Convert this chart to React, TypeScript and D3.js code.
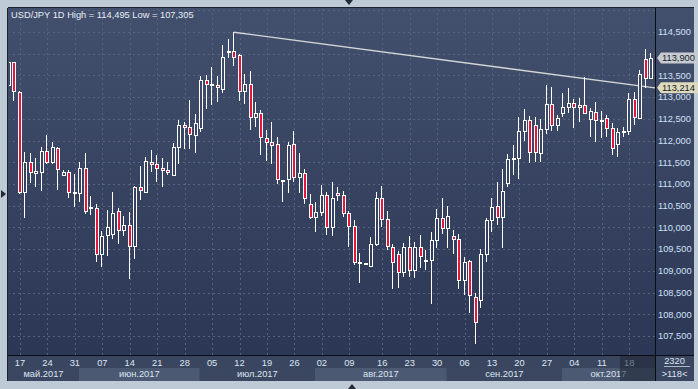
import React from 'react';
import * as d3 from 'd3';

// USD/JPY daily candles, 15 May 2017 .. 24 Oct 2017
const opens = [
  113.28, 113.8, 113.13, 110.81, 111.5, 111.25, 111.28, 111.77, 111.5, 111.82,
  111.21, 111.27, 110.82, 110.79, 111.36, 110.44, 110.44, 109.38, 109.82, 109.84,
  110.39, 109.93, 110.05, 109.57, 110.93, 110.82, 111.51, 111.45, 111.38, 111.32,
  111.21, 111.85, 112.35, 112.31, 112.14, 112.28, 113.39, 113.29, 113.27, 113.19,
  114.04, 114.06, 113.97, 113.15, 113.3, 112.55, 112.63, 112.05, 111.96, 111.92,
  111.09, 111.11, 111.92, 111.17, 111.25, 110.53, 110.25, 110.36, 110.75, 110.02,
  110.79, 110.75, 110.33, 110.04, 109.19, 109.16, 109.12, 109.63, 110.67, 110.19,
  109.56, 109.38, 108.97, 109.54, 109.02, 109.54, 109.24, 109.24, 109.7, 110.22,
  109.98, 109.81, 109.73, 108.79, 109.23, 108.41, 108.33, 109.39, 110.17, 110.49,
  110.25, 111.02, 111.58, 111.59, 112.22, 112.47, 112.35, 111.71, 112.26, 112.84,
  112.36, 112.63, 112.77, 112.86, 112.77, 112.82, 112.49, 112.66, 112.46, 112.51,
  112.28, 111.91, 112.21, 112.22, 112.95, 112.51, 113.87, 113.43,
];
const highs = [
  113.88, 113.82, 113.15, 111.73, 111.71, 111.61, 111.86, 112.14, 111.96, 111.86,
  111.32, 111.32, 111.23, 111.51, 111.71, 110.72, 110.53, 109.91, 110.4, 110.81,
  110.44, 110.26, 110.36, 110.96, 111.41, 111.63, 111.78, 111.67, 111.59, 111.51,
  111.94, 112.47, 112.43, 112.93, 112.61, 113.49, 113.51, 113.7, 113.49, 114.2,
  114.34, 114.495, 114.0, 113.53, 113.6, 112.88, 112.7, 112.24, 112.42, 112.08,
  111.1, 111.97, 112.23, 111.72, 111.35, 110.77, 110.59, 110.98, 110.82, 111.04,
  110.92, 110.84, 110.38, 110.17, 109.42, 109.18, 109.79, 110.82, 110.95, 110.39,
  109.61, 109.46, 109.65, 109.81, 109.67, 109.83, 109.48, 109.89, 110.42, 110.68,
  110.49, 109.94, 109.84, 109.33, 109.25, 108.48, 109.5, 110.21, 110.68, 111.05,
  111.35, 111.68, 111.9, 112.54, 112.72, 112.57, 112.54, 112.49, 113.28, 113.24,
  112.59, 113.09, 113.2, 112.96, 112.97, 113.46, 112.74, 112.88, 112.69, 112.59,
  112.4, 112.28, 112.32, 113.09, 113.13, 113.62, 114.1, 114.01,
];
const lows = [
  113.2, 112.91, 110.77, 110.22, 111.03, 110.94, 110.85, 111.46, 111.46, 110.86,
  111.19, 110.67, 110.46, 110.58, 110.31, 110.29, 109.21, 109.1, 109.35, 109.73,
  109.61, 109.8, 108.81, 109.27, 110.63, 110.82, 111.28, 111.05, 110.94, 111.21,
  111.21, 111.46, 111.81, 111.81, 111.72, 112.19, 112.73, 112.83, 112.9, 113.1,
  113.91, 113.72, 112.92, 112.84, 112.24, 112.32, 111.67, 111.54, 111.46, 111.0,
  110.59, 110.8, 111.05, 110.79, 110.53, 110.2, 109.9, 110.26, 109.83, 109.8,
  110.61, 110.23, 109.54, 109.13, 108.71, 109.14, 109.11, 109.58, 110.0, 109.48,
  108.58, 108.61, 108.87, 108.85, 108.83, 109.06, 109.02, 108.23, 109.53, 109.86,
  109.53, 109.38, 108.59, 108.45, 108.02, 107.305, 108.14, 109.21, 109.9, 110.06,
  109.53, 110.94, 111.21, 111.12, 112.0, 111.48, 111.5, 111.5, 112.15, 112.23,
  112.23, 112.54, 112.64, 112.3, 112.42, 112.61, 112.09, 111.97, 112.05, 112.09,
  111.67, 111.63, 112.09, 112.13, 112.36, 112.51, 113.22, 113.41,
];
const closes = [
  113.8, 113.14, 110.82, 111.5, 111.27, 111.29, 111.77, 111.5, 111.85, 111.34,
  111.27, 110.82, 110.79, 111.36, 110.39, 110.47, 109.38, 109.8, 110.0, 110.33,
  109.93, 110.05, 109.57, 110.93, 110.86, 111.52, 111.46, 111.38, 111.32, 111.27,
  111.85, 112.35, 112.31, 112.16, 112.4, 113.39, 113.3, 113.31, 113.23, 113.92,
  114.06, 113.93, 113.15, 113.3, 112.54, 112.63, 112.08, 111.96, 111.89, 111.11,
  111.1, 111.9, 111.17, 111.25, 110.67, 110.25, 110.35, 110.75, 110.02, 110.67,
  110.74, 110.33, 110.04, 109.2, 109.21, 109.18, 109.63, 110.67, 110.19, 109.57,
  109.2, 108.97, 109.54, 109.02, 109.54, 109.34, 109.26, 109.7, 110.22, 109.98,
  110.26, 109.73, 108.79, 109.21, 108.44, 107.82, 109.39, 110.17, 110.46, 110.25,
  110.84, 111.58, 111.6, 112.22, 112.47, 111.73, 111.73, 112.26, 112.84, 112.36,
  112.51, 112.77, 112.86, 112.77, 112.82, 112.64, 112.68, 112.47, 112.48, 112.28,
  111.82, 112.19, 112.23, 112.95, 112.54, 113.53, 113.43, 113.9,
];

// weekly ticks (candle index of each labelled day)
const dayTickIdx = [2, 7, 12, 17, 22, 27, 32, 37, 42, 47, 52, 57, 62, 68, 73, 78, 83, 88, 93, 98, 103, 108, 113];
const dayTickLabels = ['17', '24', '31', '07', '14', '21', '28', '05', '12', '19', '26', '02', '09', '16', '23', '30', '06', '13', '20', '27', '04', '11', '18'];
const monthLabels = ['май.2017', 'июн.2017', 'июл.2017', 'авг.2017', 'сен.2017', 'окт.2017'];
const monthStartIdx = [13, 35, 56, 80, 101];
const priceLevels = d3.range(107.5, 115.01, 0.5);
const trendLine = [
  { idx: 41, value: 114.495 },
  { idx: 117.7, value: 113.214 },
];
const trendValue = 113.214;
const viewStartIdx = 111.3;

const W = 698;
const H = 389;
const plot = { left: 8, top: 8, right: 655, bottom: 355 };
const axisRight = 694;
const footBottom = 381;
const rowSplit = 368;

const FONT = '"Liberation Sans", Arial, sans-serif';
const RED = '#e3173c';
const TXT = '#dbe5f2';
const fmt = (v: number) => v.toFixed(3).replace('.', ',');

export default function App() {
  const x = d3.scaleLinear().domain([0, 117]).range([9.0, 651.2]);
  const y = d3.scaleLinear().domain([107.063, 115.053]).range([plot.bottom, plot.top]);
  const px = (v: number) => Math.round(v) + 0.5;

  const hi = d3.max(highs)!;
  const lo = d3.min(lows)!;
  const last = closes[closes.length - 1];

  const bounds = [plot.left, ...monthStartIdx.map((i) => x(i - 0.25)), plot.right];
  const trendPath = d3
    .line<{ idx: number; value: number }>()
    .x((d) => x(d.idx))
    .y((d) => y(d.value))(trendLine)!;

  // price levels hidden behind the two price markers are not drawn
  const covered = (v: number) => [last, trendValue].some((m) => Math.abs(y(m) - y(v)) < 9);

  const marker = (v: number, fill: string) => {
    const cy = y(v);
    return (
      <g key={v}>
        <path
          d={`M${plot.right + 2},${cy} L${plot.right + 6},${cy - 5.5} L${W},${cy - 5.5} L${W},${cy + 5.5} L${plot.right + 6},${cy + 5.5} Z`}
          fill={fill}
        />
        <text x={plot.right + 7} y={cy} dy="0.35em" fontSize={9.3} fill="#141b26" fontFamily={FONT}>
          {fmt(v)}
        </text>
      </g>
    );
  };

  return (
    <svg width={W} height={H} style={{ position: 'absolute', left: 0, top: 0 }} fontFamily={FONT}>
      <defs>
        <linearGradient id="bg" gradientUnits="userSpaceOnUse" x1={0} y1={plot.top} x2={0} y2={plot.bottom}>
          <stop offset="0" stopColor="#43506d" />
          <stop offset="1" stopColor="#2b3755" />
        </linearGradient>
        <clipPath id="plotClip">
          <rect x={plot.left + 1} y={plot.top + 1} width={plot.right - plot.left - 1} height={plot.bottom - plot.top - 1} />
        </clipPath>
      </defs>

      <rect width={W} height={H} fill="#bfcad7" />
      <rect x={plot.left} y={plot.top} width={axisRight - plot.left} height={plot.bottom - plot.top} fill="url(#bg)" />
      <rect x={plot.left} y={plot.bottom} width={axisRight - plot.left} height={footBottom - plot.bottom} fill="#3a4660" />

      {/* month bands */}
      {monthLabels.map((m, i) => (
        <g key={m}>
          <rect
            x={bounds[i]}
            y={rowSplit}
            width={bounds[i + 1] - bounds[i]}
            height={footBottom - rowSplit}
            fill={i % 2 === 0 ? '#3b4761' : '#4c5973'}
          />
          <text x={(bounds[i] + bounds[i + 1]) / 2} y={377} textAnchor="middle" fontSize={9.3} fill={TXT}>
            {m}
          </text>
        </g>
      ))}

      {/* day ticks */}
      {dayTickIdx.map((t, i) => (
        <text key={t} x={x(t)} y={366} textAnchor="middle" fontSize={9.3} fill={TXT}>
          {dayTickLabels[i]}
        </text>
      ))}

      <g clipPath="url(#plotClip)">
        {priceLevels.map((v) => (
          <line key={v} x1={plot.left} x2={plot.right} y1={px(y(v))} y2={px(y(v))} stroke="#56637f" strokeDasharray="2,3" />
        ))}
        {dayTickIdx.map((t) => (
          <line key={t} x1={px(x(t))} x2={px(x(t))} y1={plot.top} y2={plot.bottom} stroke="#56637f" strokeDasharray="2,3" />
        ))}

        <path d={trendPath} stroke="#d6d6d6" strokeWidth={1.4} fill="none" />

        {opens.map((o, i) => {
          const c = closes[i];
          const cx = Math.round(x(i));
          const top = Math.round(y(Math.max(o, c)));
          const bot = Math.round(y(Math.min(o, c)));
          return (
            <g key={i}>
              <line x1={cx - 0.5} x2={cx - 0.5} y1={Math.round(y(highs[i]))} y2={Math.round(y(lows[i]))} stroke="#fff" />
              <rect
                x={cx - 1.5}
                y={top + 0.5}
                width={3}
                height={Math.max(1, bot - top)}
                fill={c >= o ? 'url(#bg)' : RED}
                stroke="#fff"
              />
            </g>
          );
        })}
      </g>

      {/* price axis */}
      {priceLevels
        .filter((v) => v <= 114.5 && !covered(v))
        .map((v) => (
          <text key={v} x={plot.right + 3} y={y(v)} dy="0.35em" fontSize={9.3} fill="#cfe0f6">
            {fmt(v)}
          </text>
        ))}
      {marker(last, '#c7cbd1')}
      {marker(trendValue, '#dedabe')}

      {/* shaded view region on the time axis */}
      <rect
        x={x(viewStartIdx)}
        y={plot.bottom}
        width={plot.right - x(viewStartIdx)}
        height={footBottom - plot.bottom}
        fill="#1d2435"
        opacity={0.55}
      />

      <text x={674.5} y={364} textAnchor="middle" fontSize={9.3} fill={TXT}>2320</text>
      <line x1={664} x2={690} y1={366.5} y2={366.5} stroke="#aab6c8" />
      <text x={674.5} y={377} textAnchor="middle" fontSize={9.3} fill={TXT}>&gt;118&lt;</text>

      {/* frame lines */}
      <line x1={plot.left - 0.5} x2={plot.left - 0.5} y1={plot.top} y2={footBottom} stroke="#1c2232" />
      <line x1={plot.left} x2={axisRight} y1={plot.top - 0.5} y2={plot.top - 0.5} stroke="#1c2232" />
      <line x1={plot.right + 0.5} x2={plot.right + 0.5} y1={plot.top} y2={footBottom} stroke="#0a0d14" />
      <line x1={plot.left} x2={axisRight} y1={plot.bottom + 0.5} y2={plot.bottom + 0.5} stroke="#0a0d14" />

      {/* scroll arrows */}
      <path d="M345,0 L353,0 L349,5 Z" fill="#222a3a" />
      <path d="M348,389 L356,389 L352,384 Z" fill="#222a3a" />
      <path d="M1,190 L6,194 L1,198 Z" fill="#222a3a" />

      <text x={11} y={18} fontSize={9.3} fill="#e8eef7">
        {`USD/JPY 1D High = ${fmt(hi)} Low = ${fmt(lo)}`}
      </text>
    </svg>
  );
}
